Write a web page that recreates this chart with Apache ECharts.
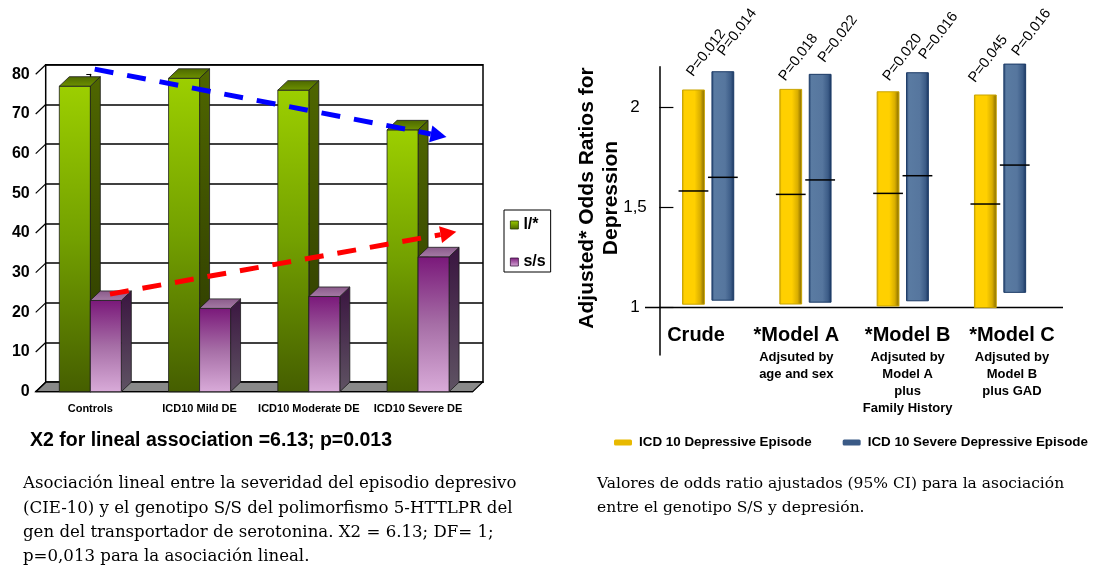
<!DOCTYPE html>
<html><head><meta charset="utf-8">
<script src="https://cdn.jsdelivr.net/npm/echarts@6/dist/echarts.min.js"></script>
<style>html,body{margin:0;padding:0;background:#fff}#c{width:1094px;height:568px}</style>
</head><body><div id="c"></div>
<script>
// ---------- Left chart data ----------
const leftCategories = ['Controls', 'ICD10 Mild DE', 'ICD10 Moderate DE', 'ICD10 Severe DE'];
const leftTicks = [0, 10, 20, 30, 40, 50, 60, 70, 80];
const lStarValues = [77, 79, 76, 66];
const ssValues = [23, 21, 24, 34];
// trend arrows: [xStart, yStart, xEnd, yEnd] in (category index, %) units
const blueTrend = [0.04, 81.3, 3.26, 64.2];
const redTrend = [0.18, 24.6, 3.35, 40.3];
const leftTitle = 'X2 for lineal association =6.13; p=0.013';
const leftCaption = 'Asociación lineal entre la severidad del episodio depresivo\n(CIE-10) y el genotipo S/S del polimorfismo 5-HTTLPR del\ngen del transportador de serotonina. X2 = 6.13; DF= 1;\np=0,013 para la asociación lineal.';

// ---------- Right chart data ----------
const rightCategories = ['Crude', '*Model A', '*Model B', '*Model C'];
const rightSubLabels = ['', 'Adjsuted by\nage and sex', 'Adjsuted by\nModel A\nplus\nFamily History', 'Adjsuted by\nModel B\nplus GAD'];
const rightTicks = [1, 1.5, 2];
const depLow = [1.017, 1.018, 1.008, 1.000];
const depHigh = [2.084, 2.087, 2.075, 2.059];
const depOR = [1.581, 1.564, 1.569, 1.516];
const sevLow = [1.037, 1.027, 1.034, 1.076];
const sevHigh = [2.175, 2.162, 2.170, 2.213];
const sevOR = [1.649, 1.636, 1.657, 1.710];
const depP = ['P=0.012', 'P=0.018', 'P=0.020', 'P=0.045'];
const sevP = ['P=0.014', 'P=0.022', 'P=0.016', 'P=0.016'];
const rightYName = 'Adjusted* Odds Ratios for\nDepression';
const rightCaption = 'Valores de odds ratio ajustados (95% CI) para la asociación\nentre el genotipo S/S y depresión.';

// ---------- styling helpers ----------
const SANS = 'Liberation Sans, Arial, sans-serif';
const LG = (x1, y1, x2, y2, stops) => new echarts.graphic.LinearGradient(x1, y1, x2, y2, stops.map((c, i) => ({offset: c[0], color: c[1]})));
const DX = 10, DY = -9.5;   // 3D depth offset
const BW = 31;              // 3D bar front width

const greenStyle = {
  front: () => LG(0, 0, 0, 1, [[0, '#9CCF00'], [0.5, '#73A000'], [1, '#455E00']]),
  side: () => LG(0, 0, 0, 1, [[0, '#4F6600'], [1, '#2A3700']]),
  top: () => LG(0, 1, 0, 0, [[0, '#6E9200'], [1, '#4C6700']])
};
const purpleStyle = {
  front: () => LG(0, 0, 0, 1, [[0, '#7A187A'], [0.5, '#A66EA6'], [1, '#D9ABD9']]),
  side: () => LG(0, 0, 0, 1, [[0, '#3A1540'], [1, '#5F5363']]),
  top: () => LG(0, 1, 0, 0, [[0, '#A67CA6'], [1, '#8A5A8A']])
};

function bar3d(st, leftSide) {
  return function (params, api) {
    const idx = api.value(0), v = api.value(1);
    const top = api.coord([idx, v]);
    const base = api.coord([idx, 0]);
    const x0 = leftSide ? top[0] - BW : top[0];
    const x1 = x0 + BW;
    const yt = top[1], yb = base[1];
    const edge = {stroke: '#1c1c1c', lineWidth: 0.8};
    return {type: 'group', children: [
      {type: 'polygon', shape: {points: [[x1, yt], [x1 + DX, yt + DY], [x1 + DX, yb + DY], [x1, yb]]}, style: Object.assign({fill: st.side()}, edge)},
      {type: 'rect', shape: {x: x0, y: yt, width: BW, height: yb - yt}, style: Object.assign({fill: st.front()}, edge)},
      {type: 'polygon', shape: {points: [[x0, yt], [x1, yt], [x1 + DX, yt + DY], [x0 + DX, yt + DY]]}, style: Object.assign({fill: st.top()}, edge)}
    ]};
  };
}

function arrowRender(color) {
  return function (params, api) {
    const p1 = api.coord([api.value(0), api.value(1)]);
    const p2 = api.coord([api.value(2), api.value(3)]);
    const dx = p2[0] - p1[0], dy = p2[1] - p1[1];
    const L = Math.hypot(dx, dy), ux = dx / L, uy = dy / L;
    const hl = 16, hw = 8.5;
    const bx = p2[0] - ux * hl, by = p2[1] - uy * hl;
    return {type: 'group', children: [
      {type: 'line', shape: {x1: p1[0], y1: p1[1], x2: bx, y2: by}, style: {stroke: color, lineWidth: 5, lineDash: [19, 14]}},
      {type: 'polygon', shape: {points: [[p2[0], p2[1]], [bx - uy * hw, by + ux * hw], [bx + uy * hw, by - ux * hw]]}, style: {fill: color}}
    ]};
  };
}

const yellowFill = () => LG(0, 0, 1, 0, [[0, '#C9A000'], [0.1, '#FFD000'], [0.55, '#FFD000'], [0.8, '#D9AE00'], [1, '#7C6400']]);
const blueFill = () => LG(0, 0, 1, 0, [[0, '#1E3C69'], [0.12, '#5A7BA2'], [0.6, '#56769E'], [0.85, '#3C5C87'], [1, '#17335E']]);
const ANG = 53 * Math.PI / 180;
// p-value label placement (pixel offsets of text bottom-left from bar top-left), as in the original layout
const depPOffset = [[11.7, -12.7], [6.7, -7.6], [13.3, -10], [1.7, -11.7]];
const sevPOffset = [[13.3, -15], [16.6, -11], [20, -12.7], [15.6, -7.3]];

function ciRender(fill, stroke, lowArr, highArr, orArr, pArr, x0off, pOff) {
  return function (params, api) {
    const i = params.dataIndex;
    const c = api.coord([api.value(0), highArr[i]]);
    const lo = api.coord([api.value(0), lowArr[i]]);
    const md = api.coord([api.value(0), orArr[i]]);
    const x = c[0] + x0off, w = 21.8;
    return {type: 'group', children: [
      {type: 'rect', shape: {x: x, y: c[1], width: w, height: lo[1] - c[1]}, style: {fill: fill(), stroke: stroke, lineWidth: 1}},
      {type: 'line', shape: {x1: x - 4, y1: md[1], x2: x + w + 4, y2: md[1]}, style: {stroke: '#000', lineWidth: 1.5}},
      {type: 'text', x: x + pOff[i][0] + 1.5, y: c[1] + pOff[i][1] + 2, rotation: ANG,
        style: {text: pArr[i], fontSize: 14.6, fontFamily: SANS, fill: '#000', align: 'left', verticalAlign: 'bottom'}}
    ]};
  };
}

const labelShift = [-12, -9, 5, 12];

const chart = echarts.init(document.getElementById('c'), null, {renderer: 'canvas'});
const option = {
  animation: false,
  backgroundColor: '#fff',
  textStyle: {fontFamily: SANS},
  title: [
    {text: leftTitle, left: 30, top: 431, padding: 0, textStyle: {fontSize: 19.5, fontWeight: 'bold', color: '#000', fontFamily: SANS}},
    {text: leftCaption, left: 23, top: 472, padding: 0, textStyle: {fontSize: 16.6, fontWeight: 'normal', color: '#000', fontFamily: 'DejaVu Serif, serif', lineHeight: 24.3}},
    {text: rightCaption, left: 597, top: 472, padding: 0, textStyle: {fontSize: 15.5, fontWeight: 'normal', color: '#000', fontFamily: 'DejaVu Serif, serif', lineHeight: 24.3}}
  ],
  legend: [
    {data: [
        {name: 'l/*', itemStyle: {color: LG(0, 0, 0, 1, [[0, '#9CCF00'], [1, '#4A6400']]), borderColor: '#2a3a00', borderWidth: 0.8}},
        {name: 's/s', itemStyle: {color: LG(0, 0, 0, 1, [[0, '#7A187A'], [1, '#D9ABD9']]), borderColor: '#3a1540', borderWidth: 0.8}}],
      orient: 'vertical', left: 504, top: 210, padding: [7, 5, 2, 6], itemGap: 21, itemWidth: 8, itemHeight: 8, icon: 'rect',
      borderColor: '#000', borderWidth: 1, selectedMode: false,
      textStyle: {fontSize: 16, fontWeight: 'bold', color: '#000', lineHeight: 16, fontFamily: SANS}},
    {data: [
        {name: 'ICD 10 Depressive Episode', itemStyle: {color: '#E8B900'}},
        {name: 'ICD 10 Severe Depressive Episode', itemStyle: {color: '#3A5A86'}}],
      orient: 'horizontal', left: 614, top: 436, padding: 0, itemGap: 31, itemWidth: 18, itemHeight: 6, icon: 'roundRect',
      selectedMode: false, textStyle: {fontSize: 13.4, fontWeight: 'bold', color: '#000', fontFamily: SANS, padding: [0, 0, 0, 2]}}
  ],
  graphic: [
    {type: 'text', x: 599, y: 198, rotation: Math.PI / 2,
      style: {text: rightYName, fontSize: 21, fontWeight: 'bold', fontFamily: SANS, lineHeight: 24, fill: '#000', align: 'center', verticalAlign: 'middle'}}
  ],
  grid: [
    {left: 45.7, top: 64.8, width: 437.3, height: 317.4, show: true, backgroundColor: '#fff', borderColor: '#000', borderWidth: 1.5},
    {left: 35.7, top: 74.3, width: 437, height: 317.4},
    {left: 650, top: 66.7, width: 413, height: 288.3}
  ],
  xAxis: [
    {gridIndex: 0, type: 'category', data: leftCategories, axisLine: {show: false}, axisTick: {show: false}, axisLabel: {show: false}, splitLine: {show: false}},
    {gridIndex: 1, type: 'category', data: leftCategories,
      axisLine: {lineStyle: {color: '#000', width: 1.3}}, axisTick: {length: 5, lineStyle: {color: '#000'}},
      axisLabel: {color: '#000', fontSize: 11, fontWeight: 'bold', margin: 12, interval: 0, fontFamily: SANS}},
    {gridIndex: 1, type: 'value', min: -0.5, max: 3.5, show: false},
    {gridIndex: 2, type: 'value', min: -0.0966, max: 4.148, show: false}
  ],
  yAxis: [
    {gridIndex: 0, type: 'value', min: 0, max: 80, interval: 10, axisLine: {show: false}, axisTick: {show: false}, axisLabel: {show: false},
      splitLine: {show: true, lineStyle: {color: '#000', width: 1.6}}},
    {gridIndex: 1, type: 'value', min: 0, max: 80, interval: 10,
      axisLine: {show: true, lineStyle: {color: '#000', width: 1.3}}, axisTick: {show: true, length: 4, lineStyle: {color: '#000'}},
      axisLabel: {color: '#000', fontSize: 16, fontWeight: 'bold', margin: 6, fontFamily: SANS}, splitLine: {show: false}},
    {gridIndex: 2, type: 'value', min: 0.764, max: 2.2,
      axisLine: {show: true, lineStyle: {color: '#000', width: 1.5}},
      axisTick: {show: true, inside: true, length: 14, customValues: rightTicks, lineStyle: {color: '#000', width: 1.2}},
      axisLabel: {customValues: rightTicks, color: '#000', fontSize: 17, margin: 15, align: 'center', fontFamily: SANS,
        formatter: v => String(v).replace('.', ',')},
      splitLine: {show: false}}
  ],
  series: [
    // floor of 3D chart
    {type: 'custom', name: 'floor', xAxisIndex: 1, yAxisIndex: 1, data: [[0, 0]], silent: true, z: 1,
      renderItem: function (params, api) {
        const cs = params.coordSys; const y0 = api.coord([0, 0])[1];
        return {type: 'polygon', shape: {points: [[cs.x, y0], [cs.x + cs.width, y0], [cs.x + cs.width + DX, y0 + DY], [cs.x + DX, y0 + DY]]},
          style: {fill: '#898989', stroke: '#000', lineWidth: 1.2}};
      }},
    // connectors between front axis and back wall
    {type: 'custom', name: 'wallTicks', xAxisIndex: 1, yAxisIndex: 1, data: leftTicks.map(v => [0, v]), silent: true, z: 1,
      renderItem: function (params, api) {
        const cs = params.coordSys; const y = api.coord([0, api.value(1)])[1];
        return {type: 'line', shape: {x1: cs.x, y1: y, x2: cs.x + DX, y2: y + DY}, style: {stroke: '#000', lineWidth: 1.2}};
      }},
    {type: 'custom', name: 'l/*', xAxisIndex: 1, yAxisIndex: 1, data: lStarValues.map((v, i) => [i, v]), encode: {x: 0, y: 1},
      itemStyle: {color: '#7FAA00'}, renderItem: bar3d(greenStyle, true), z: 3},
    {type: 'custom', name: 's/s', xAxisIndex: 1, yAxisIndex: 1, data: ssValues.map((v, i) => [i, v]), encode: {x: 0, y: 1},
      itemStyle: {color: '#A66EA6'}, renderItem: bar3d(purpleStyle, false), z: 3},
    {type: 'custom', name: 'trendBlue', xAxisIndex: 2, yAxisIndex: 1, data: [blueTrend], encode: {x: [0, 2], y: [1, 3]}, silent: true, z: 6,
      renderItem: arrowRender('#0000FF')},
    {type: 'custom', name: 'trendRed', xAxisIndex: 2, yAxisIndex: 1, data: [redTrend], encode: {x: [0, 2], y: [1, 3]}, silent: true, z: 6,
      renderItem: arrowRender('#FF0000')},
    // right chart baseline at OR = 1
    {type: 'custom', name: 'baseline', xAxisIndex: 3, yAxisIndex: 2, data: [[0, rightTicks[0]]], silent: true, z: 2,
      renderItem: function (params, api) {
        const cs = params.coordSys; const y = api.coord([0, api.value(1)])[1];
        return {type: 'line', shape: {x1: cs.x - 5, y1: y, x2: cs.x + cs.width, y2: y}, style: {stroke: '#000', lineWidth: 1.5}};
      }},
    {type: 'custom', name: 'ICD 10 Depressive Episode', xAxisIndex: 3, yAxisIndex: 2,
      data: depLow.map((v, i) => [i + 0.5, v, depHigh[i], depOR[i]]), encode: {x: 0, y: [1, 2, 3]},
      itemStyle: {color: '#E8B900'}, z: 3,
      renderItem: ciRender(yellowFill, '#C9A400', depLow, depHigh, depOR, depP, -25.5, depPOffset)},
    {type: 'custom', name: 'ICD 10 Severe Depressive Episode', xAxisIndex: 3, yAxisIndex: 2,
      data: sevLow.map((v, i) => [i + 0.5, v, sevHigh[i], sevOR[i]]), encode: {x: 0, y: [1, 2, 3]},
      itemStyle: {color: '#3A5A86'}, z: 3,
      renderItem: ciRender(blueFill, '#1B3A66', sevLow, sevHigh, sevOR, sevP, 3.9, sevPOffset)},
    // right chart category labels
    {type: 'custom', name: 'rightLabels', xAxisIndex: 3, yAxisIndex: 2, data: rightCategories.map((c, i) => [i + 0.5, rightTicks[0]]), silent: true, z: 3,
      renderItem: function (params, api) {
        const i = params.dataIndex; const p = api.coord([api.value(0), api.value(1)]);
        const x = p[0] + labelShift[i];
        return {type: 'group', children: [
          {type: 'text', x: x, y: p[1] + 27.5, style: {text: rightCategories[i], fontSize: 20, fontWeight: 'bold', fontFamily: SANS, fill: '#000', align: 'center', verticalAlign: 'middle'}},
          {type: 'text', x: x, y: p[1] + 41, style: {text: rightSubLabels[i], fontSize: 13, fontWeight: 'bold', fontFamily: SANS, lineHeight: 17, fill: '#000', align: 'center', verticalAlign: 'top'}}
        ]};
      }}
  ]
};
chart.setOption(option);
</script></body></html>
